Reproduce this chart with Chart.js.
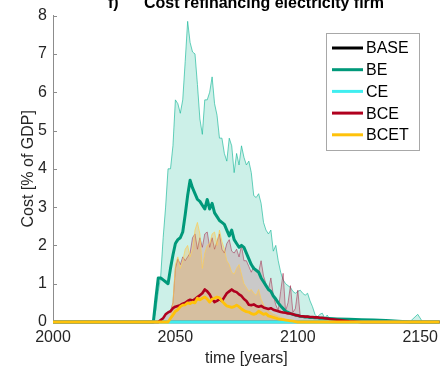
<!DOCTYPE html>
<html>
<head>
<meta charset="utf-8">
<script src="https://cdn.jsdelivr.net/npm/chart.js@4/dist/chart.umd.min.js"></script>
<style>
html, body { margin: 0; padding: 0; background: #fff; }
canvas { display: block; }
</style>
</head>
<body>
<canvas id="chart" width="444" height="370"></canvas>
<script>
var titleTag = 'f)';
var titleText = 'Cost refinancing electricity firm';
var xTicks = [2000, 2050, 2100, 2150];
var yTicks = [0, 1, 2, 3, 4, 5, 6, 7, 8];

var years = [2000,
  2039, 2040, 2041, 2042, 2043, 2044, 2045, 2046, 2047, 2048,
  2049, 2050, 2051, 2052, 2053, 2054, 2055, 2056, 2057, 2058,
  2059, 2060, 2061, 2062, 2063, 2064, 2065, 2066, 2067, 2068,
  2069, 2070, 2071, 2072, 2073, 2074, 2075, 2076, 2077, 2078,
  2079, 2080, 2081, 2082, 2083, 2084, 2085, 2086, 2087, 2088,
  2089, 2090, 2091, 2092, 2093, 2094, 2095, 2096, 2097, 2098,
  2099, 2100, 2101, 2102, 2103, 2104, 2105, 2106, 2107, 2108,
  2109, 2110, 2111, 2112, 2113,
  2116, 2121, 2126, 2131, 2136, 2141, 2146, 2149, 2151, 2158];

// mean paths
var beMean = [0,
  0, 0, 0, 0.6, 1.15, 1.15, 1.1, 1.05, 1.0, 1.4,
  1.75, 2.05, 2.15, 2.2, 2.35, 2.8, 3.3, 3.7, 3.5, 3.35,
  3.2, 3.15, 3.05, 2.95, 3.2, 2.95, 3.1, 2.85, 2.75, 2.65,
  2.6, 2.55, 2.4, 2.25, 2.4, 2.15, 2.05, 1.95, 2.0, 1.95,
  1.8, 1.65, 1.5, 1.4, 1.35, 1.3, 1.15, 1.05, 0.95, 0.85,
  0.8, 0.68, 0.6, 0.5, 0.42, 0.35, 0.28, 0.25, 0.22, 0.2,
  0.18, 0.17, 0.15, 0.14, 0.13, 0.13, 0.12, 0.12, 0.11, 0.11,
  0.1, 0.1, 0.1, 0.09, 0.09,
  0.08, 0.07, 0.06, 0.05, 0.04, 0.02, 0, 0, 0, 0];
var bceMean = [0,
  0, 0, 0, 0, 0, 0.05, 0.1, 0.2, 0.25, 0.28,
  0.36, 0.4, 0.42, 0.44, 0.48, 0.5, 0.55, 0.58, 0.56, 0.6,
  0.65, 0.7, 0.75, 0.85, 0.8, 0.72, 0.6, 0.52, 0.55, 0.6,
  0.55, 0.65, 0.75, 0.8, 0.85, 0.8, 0.78, 0.72, 0.68, 0.6,
  0.55, 0.45, 0.44, 0.46, 0.42, 0.4, 0.42, 0.38, 0.36, 0.34,
  0.36, 0.32, 0.3, 0.28, 0.26, 0.25, 0.24, 0.22, 0.22, 0.2,
  0.18, 0.17, 0.15, 0.15, 0.14, 0.14, 0.13, 0.13, 0.12, 0.12,
  0.11, 0.11, 0.1, 0.09, 0.08,
  0.06, 0.02, 0, 0, 0, 0, 0, 0, 0, 0];
var bcetMean = [0,
  0, 0, 0, 0, 0, 0, 0, 0, 0, 0.1,
  0.18, 0.28, 0.32, 0.4, 0.44, 0.45, 0.5, 0.48, 0.52, 0.5,
  0.62, 0.58, 0.62, 0.65, 0.6, 0.52, 0.6, 0.62, 0.65, 0.63,
  0.55, 0.48, 0.42, 0.4, 0.38, 0.4, 0.44, 0.4, 0.34, 0.3,
  0.27, 0.26, 0.22, 0.2, 0.22, 0.28, 0.24, 0.2, 0.22, 0.16,
  0.14, 0.12, 0.1, 0.08, 0.07, 0.06, 0.05, 0.04, 0.03, 0.02,
  0.01, 0, 0, 0, 0, 0, 0, 0, 0, 0,
  0, 0, 0, 0, 0,
  0, 0, 0, 0, 0, 0, 0, 0, 0, 0];

// upper edges of the shaded ranges
var beUpper = [0,
  0, 0, 0, 0.3, 0.8, 1.2, 2.2, 3.0, 4.0, 4.0,
  4.6, 5.8, 5.7, 5.45, 5.8, 6.8, 7.85, 7.3, 7.05, 7.0,
  6.2, 5.3, 4.9, 5.8, 5.8, 6.0, 6.4, 5.7, 5.4, 4.8,
  4.8, 4.4, 4.2, 4.8, 4.6, 3.9, 4.4, 4.1, 4.6, 4.3,
  4.1, 4.2, 3.9, 3.3, 3.25, 3.35, 3.1, 2.6, 2.4, 2.3,
  2.4, 1.85, 2.0, 1.6, 1.3, 1.1, 1.0, 0.95, 0.9, 0.8,
  0.75, 0.8, 0.83, 0.75, 0.7, 0.75, 0.55, 0.4, 0.2, 0.13,
  0.2, 0.23, 0.1, 0.18, 0.08,
  0.08, 0.07, 0.06, 0.05, 0.04, 0.03, 0.02, 0.2, 0, 0];
var bceUpper = [0,
  0, 0, 0, 0, 0, 0.05, 0.1, 0.2, 0.25, 0.3,
  0.5, 1.4, 1.65, 1.5, 1.7, 1.6, 1.7, 1.8, 2.2, 2.3,
  1.9, 2.2, 1.95, 2.3, 2.35, 1.95, 2.2, 1.9, 2.1, 2.3,
  1.9, 1.8, 2.05, 2.15, 1.85, 1.8, 1.9, 1.7, 2.0, 1.6,
  1.6, 1.45, 1.3, 1.45, 1.35, 1.3, 1.6, 1.2, 1.0, 0.85,
  1.15, 0.7, 0.45, 0.3, 0.8, 1.27, 0.28, 0.5, 0.95, 0.25,
  0.35, 0.83, 0.15, 0.15, 0.14, 0.14, 0.13, 0.13, 0.12, 0.12,
  0.11, 0.11, 0.1, 0.09, 0.08,
  0.06, 0.02, 0, 0, 0, 0, 0, 0, 0, 0];
var bcetUpper = [0,
  0, 0, 0, 0, 0, 0, 0, 0, 0, 0.1,
  0.5, 1.5, 1.7, 1.4, 1.6, 1.9, 2.0, 1.7, 1.9, 2.4,
  2.6, 2.3, 1.4, 1.8, 2.0, 2.05, 2.3, 2.35, 2.0, 2.4,
  2.1, 1.9, 1.6, 1.5, 1.3, 1.25, 1.4, 1.5, 1.25, 1.0,
  0.9, 0.8, 0.85, 0.75, 0.7, 0.85, 0.6, 0.45, 0.35, 0.3,
  0.25, 0.2, 0.18, 0.15, 0.12, 0.1, 0.08, 0.05, 0.03, 0.02,
  0.01, 0, 0, 0, 0, 0, 0, 0, 0, 0,
  0, 0, 0, 0, 0,
  0, 0, 0, 0, 0, 0, 0, 0, 0, 0];

// BASE and CE stay at zero over the whole horizon
var flatYears = [2000, 2158];
var baseValues = [0, 0];
var ceValues = [0, 0];

var legendItems = ['BASE', 'BE', 'CE', 'BCE', 'BCET'];

function pts(xs, ys) {
  return xs.map(function (x, i) { return {x: x, y: ys[i]}; });
}

Chart.defaults.font.family = '"Liberation Sans", Arial, sans-serif';
Chart.defaults.font.size = 16;
Chart.defaults.color = '#262626';

// let the zero lines show their full width below the axis
var lineClip = {left: 0, top: 0, right: 0, bottom: 4};

// MATLAB-like extras: bold title, inward ticks, boxed legend
var extras = {
  id: 'extras',
  afterDraw: function (chart) {
    var ctx = chart.ctx;
    var a = chart.chartArea;
    var ys = chart.scales.y;
    ctx.save();
    ctx.strokeStyle = '#8c8c8c';
    ctx.lineWidth = 1;
    ctx.beginPath();
    yTicks.forEach(function (v) {
      if (v === 0) return;
      var py = Math.round(ys.getPixelForValue(v)) + 0.5;
      ctx.moveTo(a.left, py);
      ctx.lineTo(a.left + 4, py);
    });
    ctx.stroke();

    ctx.fillStyle = '#000';
    ctx.font = 'bold 16px "Liberation Sans", Arial, sans-serif';
    ctx.textBaseline = 'alphabetic';
    ctx.textAlign = 'left';
    ctx.fillText(titleTag, 108, 8);
    ctx.fillText(titleText, 144, 8);

    // legend box
    var lx = 326.5, ly = 33.5, lw = 93, lh = 117;
    ctx.fillStyle = '#fff';
    ctx.fillRect(lx, ly, lw, lh);
    ctx.strokeStyle = '#a8a8a8';
    ctx.strokeRect(lx, ly, lw, lh);
    ctx.font = '16px "Liberation Sans", Arial, sans-serif';
    ctx.textBaseline = 'middle';
    legendItems.forEach(function (name, i) {
      var ds = chart.data.datasets.filter(function (d) { return d.label === name; })[0];
      var cy = 48 + i * 21.7;
      ctx.strokeStyle = ds.borderColor;
      ctx.lineWidth = 3;
      ctx.beginPath();
      ctx.moveTo(332, cy);
      ctx.lineTo(363, cy);
      ctx.stroke();
      ctx.fillStyle = '#000';
      ctx.fillText(name, 366, cy + 1);
    });
    ctx.restore();
  }
};

new Chart(document.getElementById('chart'), {
  type: 'line',
  data: {
    datasets: [
      {label: 'BE range', data: pts(years, beUpper), borderColor: 'rgba(30,185,155,0.85)', borderWidth: 0.8,
        backgroundColor: 'rgba(0,178,140,0.2)', fill: 'origin', order: 8},
      {label: 'BCE range', data: pts(years, bceUpper), borderColor: 'rgba(160,35,70,0.65)', borderWidth: 0.8,
        backgroundColor: 'rgba(190,60,90,0.22)', fill: 'origin', order: 7},
      {label: 'BCET range', data: pts(years, bcetUpper), borderColor: 'rgba(255,205,80,0.85)', borderWidth: 0.8,
        backgroundColor: 'rgba(250,165,40,0.25)', fill: 'origin', order: 6},
      {label: 'BASE', data: pts(flatYears, baseValues), borderColor: '#000000', borderWidth: 2.5, fill: false, order: 5, clip: lineClip},
      {label: 'BE', data: pts(years, beMean), borderColor: '#00997a', borderWidth: 3, fill: false, order: 4, clip: lineClip},
      {label: 'CE', data: pts(flatYears, ceValues), borderColor: '#40eef0', borderWidth: 3, fill: false, order: 3, clip: lineClip},
      {label: 'BCE', data: pts(years, bceMean), borderColor: '#b0001e', borderWidth: 2.6, fill: false, order: 2, clip: lineClip},
      {label: 'BCET', data: pts(years, bcetMean), borderColor: '#ffc20a', borderWidth: 2.8, fill: false, order: 1, clip: lineClip}
    ]
  },
  options: {
    responsive: false,
    animation: false,
    devicePixelRatio: 1,
    layout: {padding: {top: 15, right: 0, bottom: 0, left: 0}},
    elements: {point: {radius: 0}, line: {tension: 0, borderJoinStyle: 'round'}},
    plugins: {legend: {display: false}, tooltip: {enabled: false}},
    scales: {
      x: {
        type: 'linear', min: 2000, max: 2158,
        afterBuildTicks: function (s) { s.ticks = xTicks.map(function (v) { return {value: v}; }); },
        afterFit: function (s) { s.height = 48; },
        grid: {display: false, drawTicks: false},
        border: {display: true, color: '#8c8c8c', width: 1, z: -1},
        ticks: {padding: 6, maxRotation: 0, autoSkip: false, color: '#262626',
          callback: function (v) { return String(v); }},
        title: {display: true, text: 'time [years]', color: '#262626', padding: {top: 0, bottom: 2}}
      },
      y: {
        min: 0, max: 8,
        afterBuildTicks: function (s) { s.ticks = yTicks.map(function (v) { return {value: v}; }); },
        afterFit: function (s) { s.width = 53; },
        grid: {display: false, drawTicks: false},
        border: {display: true, color: '#8c8c8c', width: 1, z: -1},
        ticks: {padding: 6, color: '#262626'},
        title: {display: true, text: 'Cost [% of GDP]', color: '#262626', padding: {top: 19, bottom: 0}}
      }
    }
  },
  plugins: [extras]
});
</script>
</body>
</html>
